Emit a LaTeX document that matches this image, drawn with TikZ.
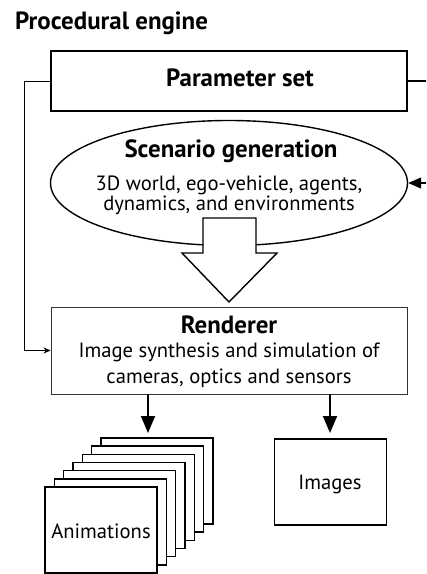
\documentclass[tikz,border=0pt]{standalone}
\usepackage{fontspec}
\setmainfont{PT Sans}
\usetikzlibrary{arrows.meta,positioning,shapes.geometric}

\begin{document}
\begin{tikzpicture}[x=1bp,y=-1bp,
      font=\fontsize{20.7}{24}\selectfont,
      head/.style={font=\fontsize{25}{28}\selectfont\bfseries,anchor=base},
      txt/.style={anchor=base,inner sep=0pt},
      box/.style={draw,align=center,inner sep=0pt},
      frame/.style={draw,line width=1.6bp,fill=white,minimum width=112bp,
                    minimum height=86bp,inner sep=0pt},
      arr/.style={-{Triangle[length=17bp,width=14bp]},line width=1.8bp},
      feed/.style={-{Stealth[length=7bp,width=6bp]},line width=0.8bp}]
    \useasboundingbox (0,0) rectangle (426,574);
    \clip (0,0) rectangle (426,574);

    \node[head,anchor=base west,inner sep=0pt] (title) at (15,30) {Procedural engine};

    \node[box,line width=2bp,minimum width=356bp,minimum height=60bp] (params)
      at (229,81) {};
    \node[head,inner sep=0pt] (paramtext) at (240,87) {Parameter set};

    \node[draw,ellipse,line width=1.4bp,minimum width=357bp,minimum height=125bp,
          inner sep=0pt] (scen) at (229,183) {};
    \node[head,inner sep=0pt] (scentitle) at (231,158) {Scenario generation};
    \node[txt] (scenline1) at (229,190) {3D world, ego-vehicle, agents,};
    \node[txt] (scenline2) at (229,210) {dynamics, and environments};

    % hollow block arrow
    \draw[line width=1.4bp,fill=white] (203,218) -- (256,218) -- (256,253)
      -- (277,253) -- (229,302) -- (182,253) -- (203,253) -- cycle;

    \node[box,draw=black!80,line width=0.9bp,minimum width=356bp,
          minimum height=87bp] (render) at (229,350.5) {};
    \node[head,inner sep=0pt] (rendertitle) at (229,333) {Renderer};
    \node[txt] (renderline1) at (229,357) {Image synthesis and simulation of};
    \node[txt] (renderline2) at (229,383) {cameras, optics and sensors};

    \draw[feed] (params.west) -- ++(-26,0) |- (render.west);
    \draw[line width=1.2bp] (params.east) -- ++(30,0);
    \coordinate (loopin) at (440,183);
    \draw[{Triangle[length=13bp,width=11bp]}-,line width=1.2bp] (scen.east) -- (loopin);

    % stack of animation frames
    \foreach \k in {6,5,...,0}
      \node[frame] (anim\k) at ({101+9.33*\k},{530-8.17*\k}) {};
    \node[txt] (animtext) at (101,538) {Animations};

    \node[frame] (images) at (330.5,482) {};
    \node[txt] (imgtext) at (330,489) {Images};

    \coordinate (animtop) at (148,433);
    \coordinate (imgtop) at (330,433);
    \draw[arr] (render.south -| animtop) -- (animtop);
    \draw[arr] (render.south -| imgtop) -- (imgtop);
  \end{tikzpicture}
\end{document}
